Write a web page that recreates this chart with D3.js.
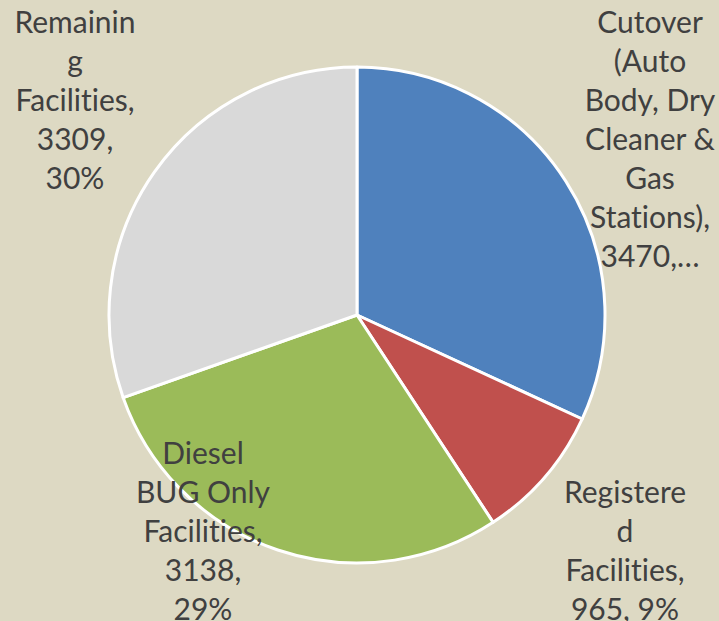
<!DOCTYPE html>
<html><head><meta charset="utf-8">
<script src="https://cdn.jsdelivr.net/npm/d3@7"></script>
<style>html,body{margin:0;padding:0;background:#DDD9C3;}svg{display:block;}text{font-variant-ligatures:none;font-feature-settings:"liga" 0,"clig" 0;}</style>
</head><body>
<svg id="chart" width="719" height="621"></svg>
<script>
const categories = ["Cutover (Auto Body, Dry Cleaner & Gas Stations)", "Registered Facilities", "Diesel BUG Only Facilities", "Remaining Facilities"];
const values = [3470, 965, 3138, 3309];
const colors = ["#4F81BD", "#C0504D", "#9BBB59", "#D9D9D9"];
const labelLines = [
  ["Cutover", "(Auto", "Body, Dry", "Cleaner &", "Gas", "Stations),", "3470,…"],
  ["Registere", "d", "Facilities,", "965, 9%"],
  ["Diesel", "BUG Only", "Facilities,", "3138,", "29%"],
  ["Remainin", "g", "Facilities,", "3309,", "30%"]
];
// layout: label block anchors (center x, first-line center y)
const labelAnchors = [[650, 22], [625, 492], [203, 453], [75, 22]];
const lineStep = 39;

const W = 719, H = 621, cx = 357, cy = 315, R = 248;
const svg = d3.select("#chart");
svg.append("rect").attr("width", W).attr("height", H).attr("fill", "#DDD9C3");

const pie = d3.pie().sort(null).value(d => d)(values);
const arc = d3.arc().innerRadius(0).outerRadius(R);
const g = svg.append("g").attr("transform", `translate(${cx},${cy})`);
g.selectAll("path").data(pie).join("path")
  .attr("d", arc)
  .attr("fill", (d, i) => colors[i])
  .attr("stroke", "#FFFFFF")
  .attr("stroke-width", 3)
  .attr("stroke-linejoin", "round");

const lg = svg.append("g")
  .attr("font-family", "Lato, 'Open Sans', sans-serif")
  .attr("font-size", 30)
  .attr("fill", "#404040")
  .attr("text-anchor", "middle");
labelLines.forEach((lines, i) => {
  const t = lg.append("text");
  lines.forEach((ln, j) => {
    t.append("tspan")
      .attr("x", labelAnchors[i][0])
      .attr("y", labelAnchors[i][1] + j * lineStep)
      .attr("dy", "0.35em")
      .text(ln);
  });
});
</script>
</body></html>
